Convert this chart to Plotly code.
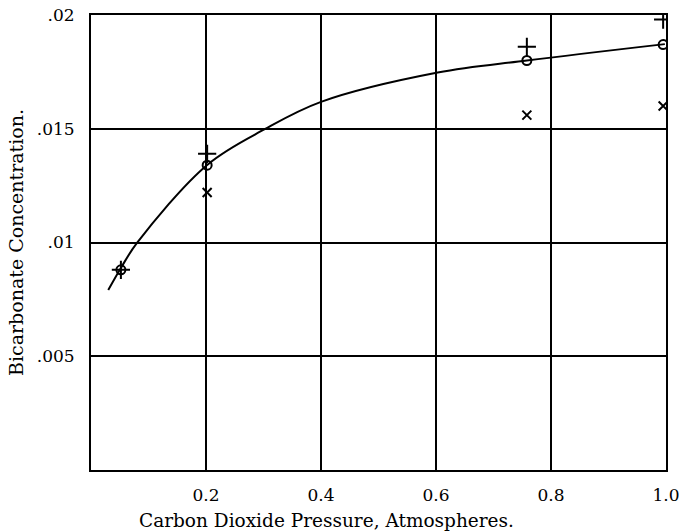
import plotly.graph_objects as go

# Fitted curve
curve_x = [0.030, 0.052, 0.080, 0.202, 0.303, 0.400, 0.603, 0.758, 0.998]
curve_y = [0.00791, 0.00888, 0.00998, 0.01341, 0.01499, 0.01618, 0.01747, 0.01800, 0.01872]

# Observations
plus_x = [0.052, 0.202, 0.758, 0.995]
plus_y = [0.0088, 0.0139, 0.0186, 0.0198]
circ_x = [0.052, 0.202, 0.758, 0.995]
circ_y = [0.0088, 0.0134, 0.0180, 0.0187]
cross_x = [0.202, 0.758, 0.995]
cross_y = [0.0122, 0.0156, 0.0160]

x_ticks = [0.2, 0.4, 0.6, 0.8, 1.0]
x_ticktext = ["0.2", "0.4", "0.6", "0.8", "1.0"]
y_ticks = [0.005, 0.01, 0.015, 0.02]
y_ticktext = [".005", ".01", ".015", ".02"]

FONT = "DejaVu Serif"

fig = go.Figure()
fig.add_trace(go.Scatter(x=curve_x, y=curve_y, mode="lines",
                         line=dict(color="black", width=2, shape="spline", smoothing=1.0),
                         showlegend=False, hoverinfo="skip"))
fig.add_trace(go.Scatter(x=plus_x, y=plus_y, mode="markers",
                         marker=dict(symbol="cross-thin-open", size=13, color="black",
                                     line=dict(color="black", width=2)),
                         showlegend=False))
fig.add_trace(go.Scatter(x=circ_x, y=circ_y, mode="markers",
                         marker=dict(symbol="circle-open", size=9, color="black",
                                     line=dict(color="black", width=2)),
                         showlegend=False))
fig.add_trace(go.Scatter(x=cross_x, y=cross_y, mode="markers",
                         marker=dict(symbol="x-thin-open", size=9, color="black",
                                     line=dict(color="black", width=2)),
                         showlegend=False))

fig.update_layout(
    width=679, height=531,
    margin=dict(l=91, r=13, t=15, b=61, autoexpand=False),
    paper_bgcolor="white", plot_bgcolor="white",
    font=dict(family=FONT, color="black", size=17),
    xaxis=dict(range=[0, 1], tickvals=x_ticks, ticktext=x_ticktext,
               showline=True, linecolor="black", linewidth=2, mirror=True,
               showgrid=True, gridcolor="black", gridwidth=1.5,
               zeroline=False, ticks="", ticklen=0, tickfont=dict(size=17),
               ticklabelstandoff=9, automargin=False, ticklabeloverflow="allow"),
    yaxis=dict(range=[0, 0.02], tickvals=y_ticks, ticktext=y_ticktext,
               showline=True, linecolor="black", linewidth=2, mirror=True,
               showgrid=True, gridcolor="black", gridwidth=1.5,
               zeroline=False, ticks="", ticklen=0, tickfont=dict(size=17),
               ticklabelstandoff=11, automargin=False, ticklabeloverflow="allow",
               title=dict(text="Bicarbonate Concentration.", font=dict(size=19), standoff=8)),
    annotations=[dict(text="Carbon Dioxide Pressure, Atmospheres.", xref="paper", yref="paper",
                      x=0.410, y=-0.111, xanchor="center", yanchor="middle",
                      showarrow=False, font=dict(size=18.5))],
)

fig.write_html("out.html")
